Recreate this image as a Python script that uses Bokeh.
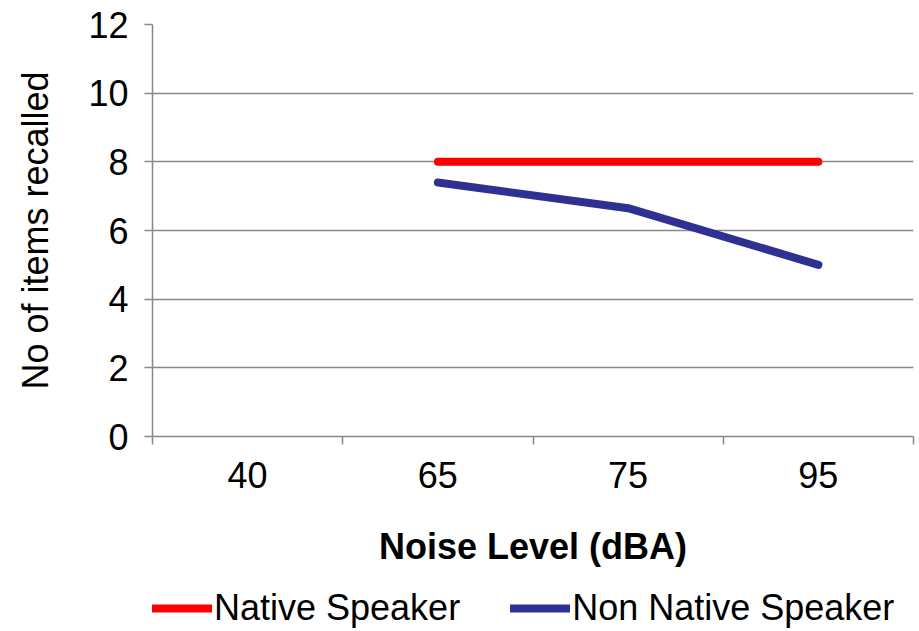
from bokeh.plotting import figure
from bokeh.layouts import column
from bokeh.models import (FactorRange, Range1d, LinearAxis, CategoricalAxis, CustomJSTickFormatter,
                          FixedTicker, Legend, LegendItem, ColumnDataSource)
from bokeh.embed import file_html
from bokeh.resources import INLINE
import numpy as np

categories = ["40", "65", "75", "95"]
native = [np.nan, 8.0, 8.0, 8.0]
non_native = [np.nan, 7.4, 6.65, 5.0]
y_ticks = [0, 2, 4, 6, 8, 10, 12]
x_title = "Noise Level (dBA)"
y_title = "No of items recalled"
series_names = ["Native Speaker", "Non Native Speaker"]

FONT = "Liberation Sans"
FS = "36px"
GRAY = "#888888"
RED = "#FF0000"
BLUE = "#2E3192"

src = ColumnDataSource(dict(x=categories, native=native, non_native=non_native))

p = figure(width=919, height=570, frame_width=761, frame_height=412,
           x_range=FactorRange(*categories, range_padding=0),
           y_range=Range1d(0, 12), output_backend="svg", toolbar_location=None,
           x_axis_location=None, min_border_left=152, min_border_top=24,
           min_border_right=6, min_border_bottom=134)
p.outline_line_color = None
p.background_fill_color = "white"
p.border_fill_color = "white"

# tick marks on category boundaries (synthetic coordinates 0..n)
tick_axis = LinearAxis(ticker=FixedTicker(ticks=list(range(len(categories) + 1)), minor_ticks=[]),
                       formatter=CustomJSTickFormatter(code="return ''"),
                       major_label_text_font_size="10px", major_label_standoff=0,
                       major_tick_out=8, major_tick_in=0,
                       major_tick_line_color=GRAY, major_tick_line_width=1.5,
                       axis_line_color=GRAY, axis_line_width=1.5,
                       minor_tick_line_color=None)
p.add_layout(tick_axis, "below")

cat_axis = CategoricalAxis(axis_line_color=None, major_tick_line_color=None,
                           major_label_text_font=FONT, major_label_text_font_size=FS,
                           major_label_text_color="black", major_label_standoff=11,
                           axis_label=x_title, axis_label_text_font=FONT,
                           axis_label_text_font_size=FS, axis_label_text_font_style="bold",
                           axis_label_text_color="black", axis_label_standoff=35)
p.add_layout(cat_axis, "below")

ya = p.yaxis[0]
ya.ticker = FixedTicker(ticks=y_ticks, minor_ticks=[])
ya.major_tick_out = 8
ya.major_tick_in = 0
ya.major_tick_line_color = GRAY
ya.major_tick_line_width = 1.5
ya.axis_line_color = GRAY
ya.axis_line_width = 1.5
ya.minor_tick_line_color = None
ya.major_label_text_font = FONT
ya.major_label_text_font_size = FS
ya.major_label_text_color = "black"
ya.major_label_standoff = 16
ya.axis_label = y_title
ya.axis_label_text_font = FONT
ya.axis_label_text_font_size = FS
ya.axis_label_text_font_style = "normal"
ya.axis_label_text_color = "black"
ya.axis_label_standoff = 29

p.xgrid.visible = False
p.ygrid.ticker = FixedTicker(ticks=y_ticks)
p.ygrid.grid_line_color = GRAY
p.ygrid.grid_line_width = 1.5

p.line("x", "native", source=src, line_color=RED, line_width=8, line_cap="round", line_join="round")
p.line("x", "non_native", source=src, line_color=BLUE, line_width=8, line_cap="round", line_join="round")

# legend strip below the chart (its lines fall outside its y range, so only the legend shows)
leg = figure(width=919, height=61, x_range=p.x_range, y_range=Range1d(100, 101),
             output_backend="svg", toolbar_location=None,
             x_axis_location=None, y_axis_location=None,
             min_border_left=0, min_border_right=0, min_border_top=0, min_border_bottom=0)
leg.outline_line_color = None
leg.background_fill_color = "white"
leg.border_fill_color = "white"
for g in leg.grid:
    g.visible = False

l1 = leg.line("x", "native", source=src, line_color=RED, line_width=8, line_cap="round")
l2 = leg.line("x", "non_native", source=src, line_color=BLUE, line_width=8, line_cap="round")

legend = Legend(items=[LegendItem(label=series_names[0], renderers=[l1]),
                       LegendItem(label=series_names[1], renderers=[l2])],
                orientation="horizontal", location=(0, 2),
                label_text_font=FONT, label_text_font_size=FS, label_text_color="black",
                glyph_width=60, glyph_height=20, label_standoff=2, spacing=50,
                padding=0, margin=0, border_line_color=None, background_fill_color=None)
leg.add_layout(legend, "center")

open("out.html", "w").write(file_html(column(p, leg, spacing=0), INLINE))
